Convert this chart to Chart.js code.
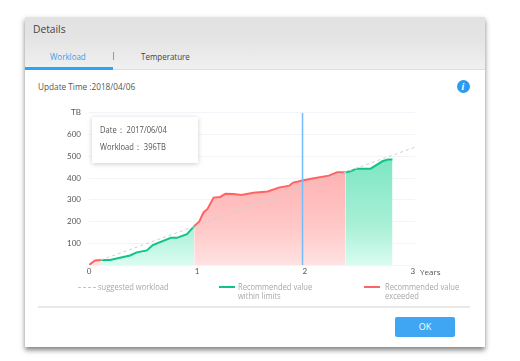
<!DOCTYPE html>
<html>
<head>
<meta charset="utf-8">
<script src="https://cdn.jsdelivr.net/npm/chart.js@4"></script>
<style>
html, body { margin: 0; padding: 0; background: #fff; }
body { width: 520px; height: 361px; overflow: hidden; position: relative; font-family: "Open Sans", sans-serif; color: #555; }
.abs { position: absolute; white-space: nowrap; }
#dialog { left: 25px; top: 17px; width: 460px; height: 330px; background: #fff; box-shadow: 0 3px 5px rgba(0,0,0,.5); }
#header { left: 25px; top: 17px; width: 460px; height: 53px; background: linear-gradient(#e2e2e2, #e4e4e4 40%, #f0f0f0); border-bottom: 1px solid #dedede; box-sizing: border-box; }
#chartBox { left: 40px; top: 100px; width: 385px; height: 185px; }
#tip { left: 92px; top: 117px; width: 106px; height: 46px; background: #fff; box-shadow: 0 1px 5px rgba(0,0,0,.2); font-size: 8.5px; color: #555; }
#tip div { transform: scaleX(.89); transform-origin: left; }
.legend { font-size: 8.5px; line-height: 9px; color: #a8a8a8; white-space: pre; transform: scaleX(.89); transform-origin: left; }
.tab { font-size: 9.5px; transform: scaleX(.84); transform-origin: left; }
</style>
</head>
<body>
<div class="abs" id="dialog"></div>
<div class="abs" id="header"></div>
<div class="abs" style="left:33px;top:21px;font-size:11.5px;color:#444;transform:scaleX(.89);transform-origin:left">Details</div>
<div class="abs tab" style="left:50px;top:50px;color:#3a9fe8">Workload</div>
<div class="abs" style="left:25px;top:67px;width:88px;height:3px;background:#2aa5f5"></div>
<div class="abs" style="left:113px;top:52px;width:1px;height:8px;background:#999"></div>
<div class="abs tab" style="left:141px;top:50px;color:#444">Temperature</div>
<div class="abs" style="left:38px;top:80px;font-size:9.5px;color:#555;transform:scaleX(.866);transform-origin:left">Update Time :2018/04/06</div>
<div class="abs" style="left:456.5px;top:79.5px;width:13px;height:13px;border-radius:50%;background:#2b9af3;color:#fff;font:italic bold 10px/13px 'Liberation Serif',serif;text-align:center">i</div>

<div class="abs" id="chartBox"><canvas id="myChart" width="385" height="185"></canvas></div>

<div class="abs" id="tip">
  <div class="abs" style="left:8px;top:7px">Date：&nbsp;2017/06/04</div>
  <div class="abs" style="left:8px;top:24px">Workload：&nbsp;396TB</div>
</div>
<div class="abs" style="left:420px;top:266px;font-size:8px;color:#555">Years</div>

<div class="abs" style="left:78px;top:287px;width:18px;border-top:1px dashed #c4c4c4"></div>
<div class="abs legend" style="left:98px;top:282px">suggested workload</div>
<div class="abs" style="left:219px;top:286px;width:16px;height:2px;background:#10c487"></div>
<div class="abs legend" style="left:238px;top:282px">Recommended value
within limits</div>
<div class="abs" style="left:364px;top:286px;width:16px;height:2px;background:#ff6464"></div>
<div class="abs legend" style="left:385px;top:282px">Recommended value
exceeded</div>

<div class="abs" style="left:38px;top:306px;width:432px;height:1.5px;background:#e8e8e8"></div>
<div class="abs" style="left:395px;top:317px;width:60px;height:20px;background:#3ea6f2;border-radius:2px;color:#fff;font-size:9px;line-height:20px;text-align:center">OK</div>

<script>
// valores
var years = [0, 0.056, 0.11, 0.195, 0.38, 0.443, 0.536, 0.591, 0.759, 0.814, 0.907, 0.975, 1.021, 1.061, 1.098, 1.154, 1.216, 1.263, 1.34, 1.412, 1.523, 1.655, 1.758, 1.857, 1.891, 1.99, 2.068, 2.222, 2.3, 2.377, 2.423, 2.479, 2.609, 2.718, 2.77, 2.811];
var workload = [0, 21, 23, 23, 44, 58, 67, 92, 125, 125, 142, 179, 199, 242, 258, 310, 313, 328, 327, 322, 332, 338, 356, 365, 379, 390, 398, 411, 427, 427, 431, 443, 443, 477, 485, 485];
var zoneStarts = [0, 0.11, 0.975, 2.377];
var zoneEnds = [0.11, 0.975, 2.377, 2.811];
var zoneKinds = ["exceeded", "within", "exceeded", "within"];
var suggestedYears = [0.11, 3.02];
var suggestedValues = [23, 542];
var cursorYears = [1.978, 1.978];
var cursorValues = [0, 700];
var yTickLabels = { 100: "100", 200: "200", 300: "300", 400: "400", 500: "500", 600: "600", 700: "TB" };

var lineColors = { exceeded: "#ff6464", within: "#10c487" };
var fillColors = {
    exceeded: ["rgba(255,172,172,1)", "rgba(255,200,200,1)", "rgba(255,226,226,1)"],
    within: ["rgba(125,230,195,1)", "rgba(170,240,215,1)", "rgba(218,252,241,1)"]
};

var gradientFor = (kind) => (ctx) => {
    var area = ctx.chart.chartArea;
    if (!area) return fillColors[kind][0];
    var g = ctx.chart.ctx.createLinearGradient(0, area.top + 45, 0, area.bottom);
    g.addColorStop(0, fillColors[kind][0]);
    g.addColorStop(0.65, fillColors[kind][1]);
    g.addColorStop(1, fillColors[kind][2]);
    return g;
};

var datasets = [];
zoneKinds.forEach((kind, z) => {
    var pts = [];
    years.forEach((y, i) => {
        if (y >= zoneStarts[z] && y <= zoneEnds[z]) pts.push({ x: y, y: workload[i] });
    });
    datasets.push({
        data: pts,
        borderColor: lineColors[kind],
        backgroundColor: gradientFor(kind),
        borderWidth: 2,
        pointRadius: 0,
        fill: "origin",
        tension: 0,
        order: 2
    });
});
datasets.push({
    data: suggestedYears.map((y, i) => ({ x: y, y: suggestedValues[i] })),
    borderColor: "#cfcfcf",
    borderWidth: 1,
    borderDash: [3, 3],
    pointRadius: 0,
    fill: false,
    order: 1
});
datasets.push({
    data: cursorYears.map((y, i) => ({ x: y, y: cursorValues[i] })),
    borderColor: "#74bcfa",
    borderWidth: 1.5,
    pointRadius: 0,
    fill: false,
    order: 0
});

var myChart = new Chart(document.getElementById("myChart").getContext("2d"), {
    type: "line",
    data: { datasets: datasets },
    options: {
        responsive: false,
        animation: false,
        layout: { padding: { top: 12, right: 10, left: 0, bottom: 0 } },
        plugins: { legend: { display: false }, tooltip: { enabled: false } },
        scales: {
            x: {
                type: "linear",
                min: 0,
                max: 3.02,
                grid: { display: false, drawTicks: false, tickLength: 0 },
                border: { display: false },
                ticks: { stepSize: 1, includeBounds: false, maxRotation: 0, color: "#555", padding: 2, font: { family: "Lato", size: 8 } },
                afterFit: (scale) => { scale.height = 20; }
            },
            y: {
                min: 0,
                max: 700,
                grid: { color: "#f1f5f9", drawTicks: false },
                border: { display: false },
                ticks: {
                    stepSize: 100,
                    color: "#555",
                    padding: 8,
                    font: { family: "Lato", size: 8 },
                    callback: (v) => yTickLabels[v] || ""
                },
                afterFit: (scale) => { scale.width = 49; }
            }
        }
    }
});
</script>
</body>
</html>
